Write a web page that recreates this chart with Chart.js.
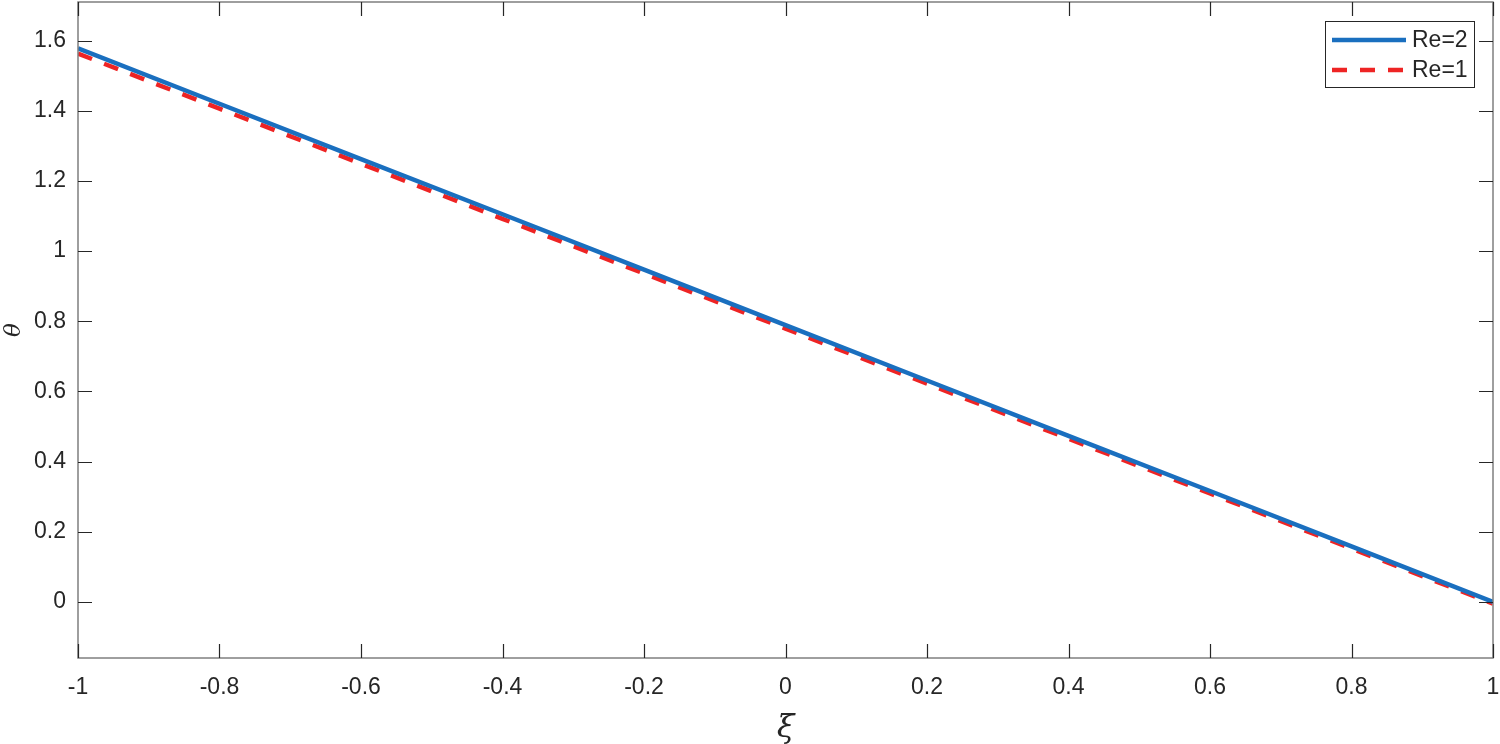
<!DOCTYPE html>
<html>
<head>
<meta charset="utf-8">
<script src="https://cdn.jsdelivr.net/npm/chart.js@4/dist/chart.umd.min.js"></script>
<style>
  html, body { margin: 0; padding: 0; background: #fff; }
  #wrap { width: 1500px; height: 744px; }
</style>
</head>
<body>
<div id="wrap"><canvas id="plot"></canvas></div>
<script>
var xi = [-1, -0.8, -0.6, -0.4, -0.2, 0, 0.2, 0.4, 0.6, 0.8, 1];
var theta_re2 = [1.578, 1.420, 1.262, 1.105, 0.947, 0.789, 0.631, 0.473, 0.316, 0.158, 0.000];
var theta_re1 = [1.563, 1.406, 1.249, 1.092, 0.936, 0.779, 0.622, 0.465, 0.309, 0.152, -0.005];
var x_ticks = [-1, -0.8, -0.6, -0.4, -0.2, 0, 0.2, 0.4, 0.6, 0.8, 1];
var y_ticks = [0, 0.2, 0.4, 0.6, 0.8, 1, 1.2, 1.4, 1.6];

var tick_font = { family: "'Liberation Sans', Arial, Helvetica, sans-serif", size: 23 };
var text_color = '#262626';
var axis_color = '#7f7f7f';

function pts(ys) {
  return xi.map(function (x, i) { return { x: x, y: ys[i] }; });
}

// box round the plot, inward ticks on all four sides, legend inside the top right corner
var matlab_box = {
  id: 'matlabBox',
  afterDatasetsDraw: function (chart) {
    var ctx = chart.ctx, a = chart.chartArea;
    var xs = chart.scales.x, ys = chart.scales.y;
    ctx.save();
    ctx.strokeStyle = axis_color;
    ctx.lineWidth = 1.5;
    ctx.strokeRect(a.left, a.top, a.right - a.left, a.bottom - a.top);
    ctx.lineWidth = 1.2;
    ctx.strokeStyle = '#262626';
    var len = 14;
    ctx.beginPath();
    xs.ticks.forEach(function (t) {
      var px = Math.round(xs.getPixelForValue(t.value)) + 0.5;
      ctx.moveTo(px, a.bottom); ctx.lineTo(px, a.bottom - len);
      ctx.moveTo(px, a.top); ctx.lineTo(px, a.top + len);
    });
    ys.ticks.forEach(function (t) {
      var py = Math.round(ys.getPixelForValue(t.value)) + 0.5;
      ctx.moveTo(a.left, py); ctx.lineTo(a.left + len, py);
      ctx.moveTo(a.right, py); ctx.lineTo(a.right - len, py);
    });
    ctx.stroke();

    // legend
    var bx = 1325, by = 21, bw = 149, bh = 66;
    ctx.fillStyle = '#fff';
    ctx.fillRect(bx, by, bw, bh);
    ctx.strokeStyle = '#262626';
    ctx.lineWidth = 1;
    ctx.strokeRect(bx + 0.5, by + 0.5, bw, bh);
    ctx.font = "23px 'Liberation Sans', Arial, sans-serif";
    ctx.textBaseline = 'middle';
    chart.data.datasets.forEach(function (ds, i) {
      var ly = by + 19 + i * 30;
      ctx.strokeStyle = ds.borderColor;
      ctx.lineWidth = ds.borderWidth;
      ctx.setLineDash(ds.borderDash || []);
      ctx.beginPath();
      ctx.moveTo(bx + 7, ly); ctx.lineTo(bx + 81, ly);
      ctx.stroke();
      ctx.setLineDash([]);
      ctx.fillStyle = text_color;
      ctx.fillText(ds.label, bx + 87, ly + 1);
    });
    ctx.restore();
  }
};

var plot_ctx = document.getElementById('plot').getContext('2d');
var plot = new Chart(plot_ctx, {
  type: 'scatter',
  data: {
    datasets: [{
        label: 'Re=2',
        data: pts(theta_re2),
        showLine: true,
        borderColor: '#1a6fbf',
        backgroundColor: '#1a6fbf',
        borderWidth: 4.5,
        pointRadius: 0,
        fill: false
      }, {
        label: 'Re=1',
        data: pts(theta_re1),
        showLine: true,
        borderColor: '#ee2424',
        backgroundColor: '#ee2424',
        borderWidth: 4.5,
        borderDash: [15, 13],
        pointRadius: 0,
        fill: false
      }
    ]
  },
  options: {
    responsive: true,
    maintainAspectRatio: false,
    animation: false,
    layout: { padding: { top: 2, right: 7, left: 0, bottom: 0 } },
    plugins: { legend: { display: false }, tooltip: { enabled: false } },
    scales: {
      x: {
        type: 'linear',
        min: -1, max: 1,
        afterBuildTicks: function (s) { s.ticks = x_ticks.map(function (v) { return { value: v }; }); },
        afterFit: function (s) { s.height = 86; s.paddingLeft = 0; s.paddingRight = 0; },
        grid: { display: false, drawTicks: false },
        border: { display: false },
        ticks: {
          font: tick_font, color: text_color, padding: 16, maxRotation: 0,
          callback: function (v) { return String(v); }
        },
        title: {
          display: true, text: 'ξ', color: text_color,
          font: { family: "'DejaVu Serif', serif", size: 32, style: 'italic', lineHeight: 0.95 },
          padding: { top: 0, bottom: 0 }
        }
      },
      y: {
        type: 'linear',
        min: -0.16, max: 1.71,
        afterBuildTicks: function (s) { s.ticks = y_ticks.map(function (v) { return { value: v }; }); },
        afterFit: function (s) { s.width = 78; s.paddingTop = 0; s.paddingBottom = 0; },
        grid: { display: false, drawTicks: false },
        border: { display: false },
        ticks: {
          font: tick_font, color: text_color, padding: 12,
          callback: function (v) { return String(v); }
        },
        title: {
          display: true, text: 'θ', color: text_color,
          font: { family: "'DejaVu Serif', serif", size: 23, style: 'italic' },
          padding: { top: 0, bottom: 0 }
        }
      }
    }
  },
  plugins: [matlab_box]
});
</script>
</body>
</html>
